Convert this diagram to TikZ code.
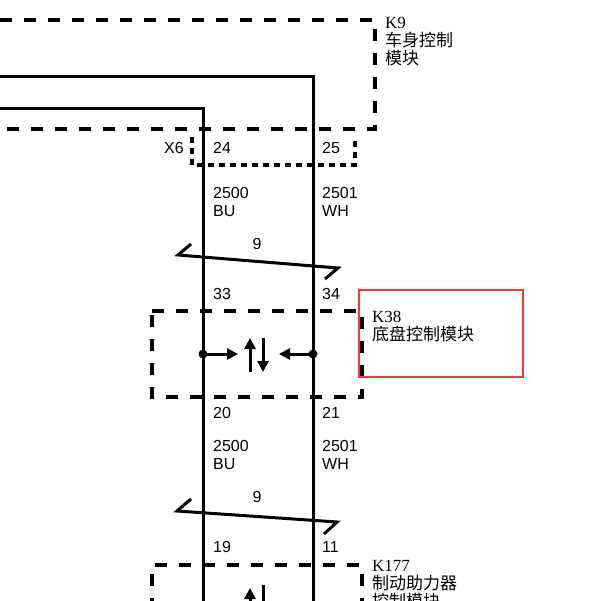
\documentclass[tikz,border=0pt]{standalone}
\usepackage{fontspec}
\setmainfont{Liberation Sans}
\newfontfamily\serifk{Liberation Serif}
\newfontfamily\cjk{Noto Sans CJK SC}
\usetikzlibrary{arrows.meta}
\begin{document}
\begin{tikzpicture}[x=1pt,y=-1pt,
  wire/.style={line width=3pt},
  modbox/.style={line width=4pt,dash pattern=on 12pt off 12pt},
  conbox/.style={line width=3.5pt,dash pattern=on 6pt off 5pt},
  lbl/.style={font=\fontsize{16}{16}\selectfont,inner sep=0pt,anchor=west},
  klbl/.style={font=\fontsize{17}{18}\selectfont,inner sep=0pt,anchor=north west,align=left},
  arr/.style={line width=3pt,-{Triangle[length=11pt,width=11pt]}}]
\useasboundingbox (0,0) rectangle (600,601);
% K9
\draw[modbox] (0,20) -- (375,20) -- (375,129) -- (0,129);
\node[klbl] (k9) at (385,17) {\serifk K9\\\cjk 车身控制\\\cjk 模块};
% X6
\draw[conbox] (192,137) -- (192,165) -- (355,165) -- (355,137);
\node[lbl,anchor=east] (x6) at (184,148) {X6};
\node[lbl] (p24) at (213,148) {24};
\node[lbl] (p25) at (322,148) {25};
% wires
\coordinate (la) at (0,109); \coordinate (lc) at (203,109); \coordinate (lb) at (203,601);
\coordinate (ra) at (0,77); \coordinate (rc) at (313,77); \coordinate (rb) at (313,601);
\draw[wire] (la) -- (lc) -- (lb);
\draw[wire] (ra) -- (rc) -- (rb);
\node[lbl] (w1) at (213,193) {2500};
\node[lbl] (w2) at (213,211) {BU};
\node[lbl] (w3) at (322,193) {2501};
\node[lbl] (w4) at (322,211) {WH};
% twist 1
\node[lbl,anchor=center] (t1) at (257,244) {9};
\draw[wire] (191,244) -- (178,255) -- (338,268) -- (325,279);
\node[lbl] (p33) at (213,294) {33};
\node[lbl] (p34) at (322,294) {34};
% K38
\draw[modbox] (152,311) -- (362,311) -- (362,397) -- (152,397) -- cycle;
\draw[red!80!white,line width=2.5pt] (359,290) rectangle (523,377);
\node[klbl] (k38) at (372,311) {\serifk K38\\\cjk 底盘控制模块};
\coordinate (d1) at (203,354); \coordinate (d2) at (313,354);
\fill (d1) circle (4.5pt); \fill (d2) circle (4.5pt);
\coordinate (a1) at (238,354); \coordinate (a2) at (279,354);
\draw[arr] (d1) -- (a1);
\draw[arr] (d2) -- (a2);
\coordinate (u1) at (250,372); \coordinate (u2) at (250,338);
\coordinate (v1) at (263,338); \coordinate (v2) at (263,372);
\draw[arr] (u1) -- (u2);
\draw[arr] (v1) -- (v2);
\node[lbl] (p20) at (213,413) {20};
\node[lbl] (p21) at (322,413) {21};
\node[lbl] (w5) at (213,446) {2500};
\node[lbl] (w6) at (213,464) {BU};
\node[lbl] (w7) at (322,446) {2501};
\node[lbl] (w8) at (322,464) {WH};
% twist 2
\node[lbl,anchor=center] (t2) at (257,497) {9};
\draw[wire] (191,499) -- (177,511) -- (337,522) -- (324,534);
\node[lbl] (p19) at (213,547) {19};
\node[lbl] (p11) at (322,547) {11};
% K177
\draw[modbox] (152,610) -- (152,565) -- (362,565) -- (362,610);
\node[klbl] (k177) at (372,560) {\serifk K177\\\cjk 制动助力器\\\cjk 控制模块};
\coordinate (u3) at (250,615); \coordinate (u4) at (250,588);
\draw[arr] (u3) -- (u4);
\coordinate (v3) at (263,585); \coordinate (v4) at (263,615);
\draw[wire] (v3) -- (v4);
\end{tikzpicture}
\end{document}
